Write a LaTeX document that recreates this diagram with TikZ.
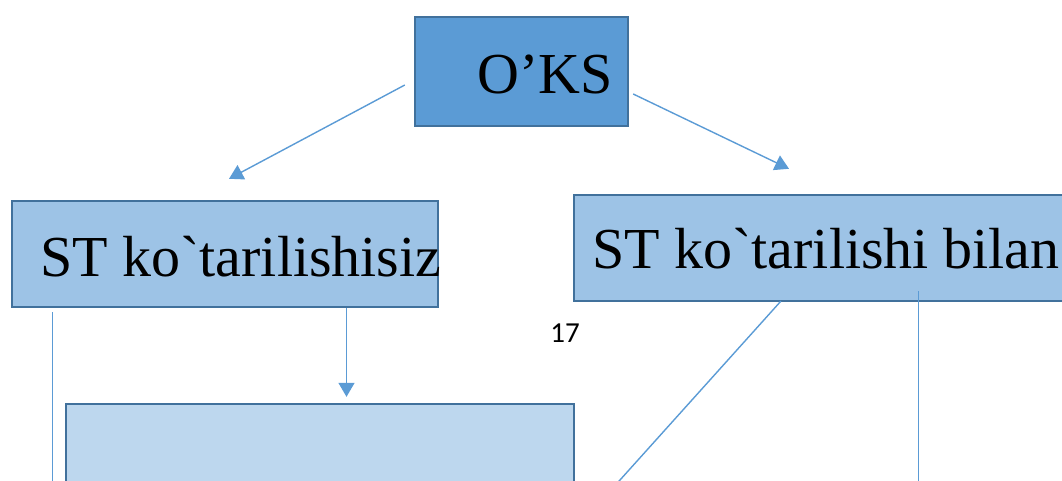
\documentclass[tikz,border=0pt]{standalone}
\usepackage{fontspec}
\newfontfamily\tnrfont{Liberation Serif}
\newfontfamily\carlitofont{Carlito}
\usetikzlibrary{arrows.meta,calc}
\definecolor{topfill}{HTML}{5B9BD5}
\definecolor{midfill}{HTML}{9DC3E6}
\definecolor{lowfill}{HTML}{BDD7EE}
\definecolor{edge}{HTML}{41719C}
\definecolor{conn}{HTML}{5B9BD5}
\tikzset{
  boxbase/.style={draw=edge, line width=2.4pt, rectangle, inner sep=0pt},
  topbox/.style={boxbase, fill=topfill},
  midbox/.style={boxbase, fill=midfill},
  lowbox/.style={boxbase, fill=lowfill},
  bigtext/.style={font=\tnrfont\fontsize{58}{58}\selectfont, inner sep=0pt, anchor=base west},
  conline/.style={draw=conn, line width=1.4pt},
  conarrow/.style={conline, -{Triangle[length=14pt,width=16pt]}}
}
\begin{document}
\begin{tikzpicture}[x=1pt,y=-1pt]
\useasboundingbox (0,0) rectangle (1062,480);
\clip (0,0) rectangle (1062,480);
% boxes
\node[topbox, minimum width=213pt, minimum height=109pt] (oks) at (521.5,71.5) {};
\node[midbox, minimum width=426pt, minimum height=106pt] (nost) at (225,254) {};
\node[midbox, minimum width=516pt, minimum height=106pt] (st) at (832,248) {};
\node[lowbox, minimum width=508pt, minimum height=200pt] (low) at (320,504) {};
% texts
\node[bigtext] (toks) at (477,93) {O’KS};
\node[bigtext] (tnost) at (40,276) {ST ko\char96 tarilishisiz};
\node[bigtext] (tst) at (592,268) {ST ko\char96 tarilishi bilan};
\node[font=\carlitofont\fontsize{29}{29}\selectfont, inner sep=0pt] (pg) at (565,333) {17};
% free ends
\coordinate (a3s) at ($(nost.south east)+(-92.7,0)$);
\coordinate (s4) at ($(nost.south west)+(41.7,4)$);
\coordinate (s6) at ($(st.south west)+(345.7,-11)$);
\coordinate (e4) at (s4 |- 0,490);
\coordinate (e5) at (611,490);
\coordinate (e6) at (s6 |- 0,490);
% connectors
\draw[conarrow] ($(oks.west)+(-9,13.5)$) -- ($(nost.north)+(4,-21)$);
\draw[conarrow] ($(oks.east)+(4,22.5)$) -- ($(st.north)+(-43,-25)$);
\draw[conarrow] (a3s) -- ($(a3s |- low.north)+(0,-6)$);
\draw[conline] (s4) -- (e4);
\draw[conline] ($(st.south west)+(208,-1)$) -- (e5);
\draw[conline] (s6) -- (e6);
\end{tikzpicture}
\end{document}
